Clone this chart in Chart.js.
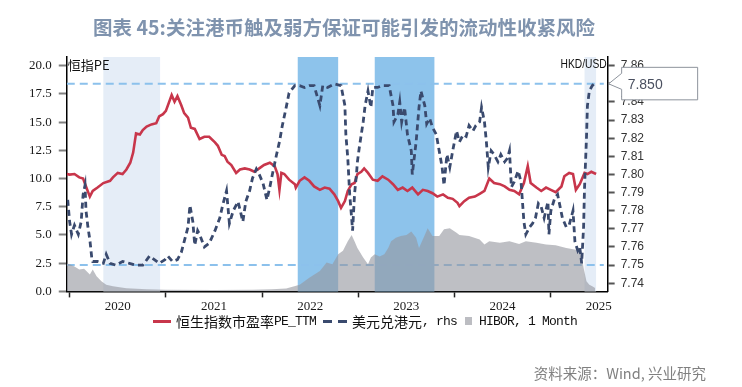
<!DOCTYPE html>
<html>
<head>
<meta charset="utf-8">
<script src="https://cdn.jsdelivr.net/npm/chart.js@4"></script>
<style>
  body { margin: 0; background: #fff; }
  #wrap { position: relative; width: 742px; height: 387px; overflow: hidden; }
  canvas { position: absolute; left: 0; top: 0; }
  #title { position: absolute; left: 0; top: 14px; width: 688px; text-align: center;
           font: bold 19.5px "Noto Sans CJK SC", sans-serif; line-height: 26px; color: #7f93ae; }
  #source { position: absolute; right: 36px; top: 363px;
            font: 14.5px "Noto Sans CJK SC", sans-serif; line-height: 20px; color: #808080; }
  #legend { position: absolute; left: 153px; top: 312px; height: 18px; display: flex; align-items: center;
            font: 13px "Liberation Mono", monospace; letter-spacing: -0.8px; color: #111; white-space: nowrap; }
  #legend .item { display: flex; align-items: center; margin-right: 7px; }
  #legend .zh { font: 14px "Noto Sans CJK SC", sans-serif; letter-spacing: 0; }
  #legend .mk { display: inline-block; margin-right: 5px; }
  #legend .line { width: 18px; height: 3px; background: #c8364b; }
  #legend .dash { width: 24px; height: 3px;
                  background: linear-gradient(to right, #3a4a6e 0 9px, transparent 9px 15px, #3a4a6e 15px 24px); }
  #legend .box { width: 7px; height: 8px; background: #bcbdc2; margin-left: 1px; margin-right: 7px; }
</style>
</head>
<body>
<div id="wrap">
  <canvas id="chart" width="742" height="387"></canvas>
  <div id="title">图表 45:关注港币触及弱方保证可能引发的流动性收紧风险</div>
  <div id="legend">
    <span class="item"><span class="mk line"></span><span class="zh">恒生指数市盈率</span>PE_TTM</span>
    <span class="item"><span class="mk dash"></span><span class="zh">美元兑港元</span>, rhs</span>
    <span class="item"><span class="mk box"></span>HIBOR, 1 Month</span>
  </div>
  <div id="source">资料来源：Wind, 兴业研究</div>
</div>
<script>
// dates are decimal years
const yearTicks = [2020, 2021, 2022, 2023, 2024, 2025];
const peTicks = [0, 2.5, 5, 7.5, 10, 12.5, 15, 17.5, 20];
const fxTicks = [7.74, 7.75, 7.76, 7.77, 7.78, 7.79, 7.80, 7.81, 7.82, 7.83, 7.84, 7.85, 7.86];
const pegLevels = [7.85, 7.75];
const pegSpan = [2019.97, 2025.55];
const calloutValue = 7.85;
const lightBands = [[2020.35, 2020.94], [2025.35, 2025.47]];
const darkBands = [[2022.37, 2022.79], [2023.17, 2023.79]];

const peDates = [
  2019.97, 2020.00, 2020.05, 2020.10, 2020.14, 2020.17, 2020.21, 2020.24, 2020.29, 2020.35,
  2020.42, 2020.45, 2020.50, 2020.55, 2020.59, 2020.63, 2020.66, 2020.69, 2020.73, 2020.76,
  2020.80, 2020.85, 2020.90, 2020.93, 2020.97, 2021.00, 2021.06, 2021.09, 2021.12, 2021.16,
  2021.19, 2021.23, 2021.26, 2021.30, 2021.35, 2021.40, 2021.45, 2021.51, 2021.54, 2021.58,
  2021.61, 2021.64, 2021.68, 2021.73, 2021.77, 2021.82, 2021.87, 2021.92, 2021.97, 2022.02,
  2022.08, 2022.13, 2022.16, 2022.18, 2022.20, 2022.23, 2022.28, 2022.34, 2022.35, 2022.39,
  2022.44, 2022.49, 2022.54, 2022.60, 2022.65, 2022.70, 2022.75, 2022.79, 2022.82, 2022.86,
  2022.89, 2022.93, 2022.96, 2022.99, 2023.03, 2023.06, 2023.10, 2023.15, 2023.20, 2023.25,
  2023.31, 2023.36, 2023.41, 2023.46, 2023.51, 2023.56, 2023.62, 2023.67, 2023.72, 2023.77,
  2023.82, 2023.88, 2023.93, 2023.98, 2024.03, 2024.05, 2024.10, 2024.15, 2024.21, 2024.26,
  2024.31, 2024.36, 2024.41, 2024.47, 2024.52, 2024.57, 2024.62, 2024.67, 2024.72, 2024.76,
  2024.79, 2024.85, 2024.90, 2024.95, 2025.00, 2025.05, 2025.11, 2025.14, 2025.19, 2025.23,
  2025.26, 2025.30, 2025.35, 2025.38, 2025.42, 2025.47
];
const peValues = [
  10.4, 10.35, 10.4, 10.1, 10.0, 9.3, 8.4, 8.9, 9.2, 9.6,
  9.8, 10.1, 10.5, 10.4, 10.8, 11.4, 12.3, 14.0, 13.9, 14.3,
  14.6, 14.8, 14.9, 15.5, 15.7, 16.0, 17.4, 16.8, 17.3, 16.5,
  15.8, 15.4, 14.5, 14.4, 13.5, 13.7, 13.7, 13.2, 12.9, 12.1,
  12.0, 11.5, 11.2, 10.5, 10.8, 10.9, 10.8, 10.6, 10.9, 11.2,
  11.4, 11.1, 10.4, 9.0, 10.5, 10.4, 9.9, 9.5, 9.2, 9.8,
  10.1, 9.8, 9.3, 9.0, 9.2, 9.1, 8.6, 8.0, 7.4, 8.0,
  8.9, 9.5, 9.6, 10.4, 10.6, 10.9, 10.5, 9.9, 9.8, 10.2,
  9.9, 9.5, 9.0, 9.2, 8.9, 9.2, 8.6, 9.0, 8.9, 8.7,
  8.4, 8.6, 8.3, 8.2, 7.85, 7.55, 8.0, 8.3, 8.4, 8.65,
  8.9, 10.0, 9.6, 9.5, 9.3, 9.0, 8.9, 8.6, 9.6, 11.1,
  9.6, 9.2, 8.9, 9.2, 9.0, 8.8, 9.3, 10.2, 10.5, 10.4,
  9.0, 9.5, 10.5, 10.4, 10.6, 10.4
];

const hkdDates = [
  2019.98, 2020.00, 2020.02, 2020.05, 2020.09, 2020.12, 2020.14, 2020.16, 2020.17, 2020.19,
  2020.21, 2020.23, 2020.24, 2020.29, 2020.35, 2020.38, 2020.42, 2020.48, 2020.55, 2020.62,
  2020.69, 2020.76, 2020.83, 2020.88, 2020.93, 2020.99, 2021.02, 2021.07, 2021.12, 2021.16,
  2021.19, 2021.23, 2021.25, 2021.28, 2021.30, 2021.33, 2021.35, 2021.40, 2021.45, 2021.51,
  2021.56, 2021.59, 2021.63, 2021.66, 2021.70, 2021.75, 2021.80, 2021.83, 2021.87, 2021.90,
  2021.94, 2021.97, 2022.01, 2022.05, 2022.08, 2022.11, 2022.15, 2022.18, 2022.21, 2022.25,
  2022.28, 2022.34, 2022.39, 2022.44, 2022.49, 2022.54, 2022.60, 2022.63, 2022.68, 2022.75,
  2022.82, 2022.86, 2022.87, 2022.89, 2022.91, 2022.93, 2022.94, 2022.96, 2022.98, 2022.99,
  2023.01, 2023.03, 2023.05, 2023.07, 2023.10, 2023.13, 2023.15, 2023.20, 2023.25, 2023.32,
  2023.36, 2023.37, 2023.41, 2023.43, 2023.45, 2023.48, 2023.51, 2023.55, 2023.56, 2023.60,
  2023.63, 2023.65, 2023.69, 2023.71, 2023.74, 2023.77, 2023.81, 2023.84, 2023.87, 2023.89,
  2023.92, 2023.95, 2023.98, 2024.02, 2024.05, 2024.09, 2024.12, 2024.15, 2024.19, 2024.22,
  2024.26, 2024.28, 2024.31, 2024.33, 2024.35, 2024.38, 2024.41, 2024.45, 2024.48, 2024.52,
  2024.55, 2024.57, 2024.59, 2024.62, 2024.66, 2024.69, 2024.72, 2024.74, 2024.78, 2024.81,
  2024.84, 2024.87, 2024.90, 2024.93, 2024.97, 2024.98, 2025.00, 2025.04, 2025.07, 2025.12,
  2025.16, 2025.19, 2025.23, 2025.25, 2025.28, 2025.30, 2025.32, 2025.34, 2025.35, 2025.37,
  2025.38, 2025.40, 2025.43, 2025.45
];
const hkdValues = [
  7.786, 7.774, 7.767, 7.772, 7.767, 7.774, 7.789, 7.794, 7.780, 7.771,
  7.764, 7.754, 7.752, 7.752, 7.751, 7.756, 7.751, 7.750, 7.752, 7.751,
  7.750, 7.750, 7.755, 7.753, 7.751, 7.753, 7.755, 7.752, 7.753, 7.757,
  7.763, 7.771, 7.783, 7.774, 7.761, 7.769, 7.767, 7.760, 7.762, 7.769,
  7.776, 7.783, 7.791, 7.773, 7.780, 7.785, 7.774, 7.785, 7.791, 7.798,
  7.803, 7.800, 7.795, 7.786, 7.793, 7.801, 7.811, 7.818, 7.827, 7.837,
  7.845, 7.849, 7.849, 7.848, 7.849, 7.849, 7.838, 7.849, 7.848, 7.850,
  7.849, 7.838, 7.822, 7.809, 7.789, 7.776, 7.769, 7.789, 7.800, 7.807,
  7.815, 7.822, 7.829, 7.838, 7.846, 7.837, 7.848, 7.848, 7.849, 7.849,
  7.838, 7.829, 7.833, 7.840, 7.829, 7.837, 7.822, 7.813, 7.800, 7.818,
  7.837, 7.846, 7.838, 7.828, 7.831, 7.826, 7.822, 7.813, 7.804, 7.794,
  7.811, 7.804, 7.813, 7.824, 7.818, 7.822, 7.821, 7.827, 7.824, 7.827,
  7.829, 7.837, 7.829, 7.818, 7.804, 7.813, 7.811, 7.807, 7.811, 7.807,
  7.809, 7.813, 7.793, 7.796, 7.802, 7.796, 7.774, 7.767, 7.771, 7.773,
  7.776, 7.784, 7.782, 7.776, 7.785, 7.767, 7.780, 7.787, 7.789, 7.776,
  7.771, 7.772, 7.780, 7.763, 7.758, 7.760, 7.751, 7.771, 7.793, 7.820,
  7.838, 7.846, 7.849, 7.850
];

const hiborDates = [
  2019.97, 2020.00, 2020.05, 2020.10, 2020.15, 2020.21, 2020.24, 2020.28, 2020.33, 2020.38,
  2020.45, 2020.59, 2020.80, 2021.00, 2021.50, 2021.90, 2022.10, 2022.25, 2022.39, 2022.49,
  2022.60, 2022.67, 2022.73, 2022.79, 2022.84, 2022.89, 2022.93, 2022.96, 2022.99, 2023.05,
  2023.10, 2023.13, 2023.17, 2023.22, 2023.27, 2023.31, 2023.34, 2023.39, 2023.44, 2023.50,
  2023.55, 2023.60, 2023.63, 2023.69, 2023.72, 2023.77, 2023.84, 2023.89, 2023.95, 2024.02,
  2024.05, 2024.15, 2024.26, 2024.31, 2024.36, 2024.47, 2024.57, 2024.67, 2024.74, 2024.85,
  2024.95, 2025.05, 2025.16, 2025.26, 2025.31, 2025.34, 2025.37, 2025.40, 2025.43, 2025.46
];
const hiborValues = [
  2.5, 2.4, 2.2, 1.95, 2.0, 1.5, 1.95, 1.35, 0.9, 0.6,
  0.45, 0.27, 0.2, 0.15, 0.12, 0.15, 0.2, 0.25, 0.6, 1.2,
  1.8, 2.55, 2.4, 3.3, 3.6, 4.45, 5.0, 4.45, 3.85, 3.0,
  2.4, 3.0, 3.3, 3.1, 3.3, 3.85, 4.45, 4.75, 4.9, 5.0,
  5.3, 4.75, 3.85, 5.0, 5.6, 4.9, 4.9, 5.5, 5.6, 5.2,
  5.0, 4.9, 4.6, 4.15, 4.45, 4.3, 4.45, 4.2, 4.45, 4.3,
  4.15, 4.1, 3.85, 3.7, 3.8, 2.1, 0.9, 0.6, 0.45, 0.3
];

const RED = '#c8364b';
const NAVY = '#3a4a6e';
const GREY = 'rgba(150, 152, 160, 0.62)';
const PEG = '#8cc1ec';

function pts(xs, ys) {
  return xs.map((x, i) => ({ x: x, y: ys[i] }));
}

const bands = {
  id: 'bands',
  beforeDatasetsDraw(chart) {
    const { ctx, chartArea: a, scales: { x } } = chart;
    ctx.save();
    const paint = (list, color) => list.forEach(([s, e]) => {
      const x1 = x.getPixelForValue(s), x2 = x.getPixelForValue(e);
      ctx.fillStyle = color;
      ctx.fillRect(x1, a.top, x2 - x1, a.bottom - a.top);
    });
    paint(lightBands, '#e5edf7');
    paint(darkBands, '#8dc3eb');
    ctx.restore();
  }
};

const extras = {
  id: 'extras',
  afterDraw(chart) {
    const { ctx, chartArea: a, scales: { y1 } } = chart;
    ctx.save();
    ctx.fillStyle = '#111';
    ctx.textBaseline = 'middle';
    ctx.font = '13px "Noto Sans CJK SC", sans-serif';
    ctx.textAlign = 'left';
    ctx.fillText('恒指PE', a.left + 1, a.top + 8);
    // narrow axis caption on the right
    ctx.save();
    ctx.translate(a.right - 1, a.top + 8);
    ctx.scale(0.82, 1);
    ctx.font = '12.5px "Liberation Sans", sans-serif';
    ctx.textAlign = 'right';
    ctx.fillText('HKD/USD', 0, 0);
    ctx.restore();

    // callout box for the weak-side level
    const tipX = a.right + 1, tipY = y1.getPixelForValue(calloutValue);
    const L = a.right + 14, T = tipY - 16.5, W = 76, H = 32.5;
    ctx.beginPath();
    ctx.moveTo(L, T);
    ctx.lineTo(L + W, T);
    ctx.lineTo(L + W, T + H);
    ctx.lineTo(L, T + H);
    ctx.lineTo(L, tipY + 5.5);
    ctx.lineTo(tipX, tipY);
    ctx.lineTo(L, tipY - 10.5);
    ctx.closePath();
    ctx.fillStyle = '#fff';
    ctx.fill();
    ctx.strokeStyle = '#8d939c';
    ctx.lineWidth = 1;
    ctx.stroke();
    ctx.fillStyle = '#4a5060';
    ctx.textAlign = 'left';
    ctx.font = '14px "Liberation Sans", sans-serif';
    ctx.fillText(calloutValue.toFixed(3), L + 6, tipY + 1);
    ctx.restore();
  }
};

new Chart(document.getElementById('chart'), {
  type: 'line',
  data: {
    datasets: [
      {
        label: '恒生指数市盈率PE_TTM',
        data: pts(peDates, peValues),
        yAxisID: 'y',
        borderColor: RED,
        borderWidth: 2.6,
        pointRadius: 0,
        order: 1
      },
      {
        label: '美元兑港元, rhs',
        data: pts(hkdDates, hkdValues),
        yAxisID: 'y1',
        borderColor: NAVY,
        borderWidth: 2.8,
        borderDash: [6, 4],
        pointRadius: 0,
        order: 0
      },
      {
        label: 'HIBOR, 1 Month',
        data: pts(hiborDates, hiborValues),
        yAxisID: 'y',
        borderWidth: 0,
        backgroundColor: GREY,
        fill: 'origin',
        pointRadius: 0,
        order: 2
      },
      {
        label: 'peg-strong',
        data: pts(pegSpan, [pegLevels[0], pegLevels[0]]),
        yAxisID: 'y1',
        borderColor: PEG,
        borderWidth: 2,
        borderDash: [8, 5],
        pointRadius: 0,
        order: 3
      },
      {
        label: 'peg-weak',
        data: pts(pegSpan, [pegLevels[1], pegLevels[1]]),
        yAxisID: 'y1',
        borderColor: PEG,
        borderWidth: 2,
        borderDash: [8, 5],
        pointRadius: 0,
        order: 3
      }
    ]
  },
  options: {
    responsive: false,
    animation: false,
    devicePixelRatio: 1,
    layout: { padding: { left: 22, right: 92, top: 57, bottom: 72 } },
    plugins: {
      tooltip: { enabled: false },
      legend: { display: false }
    },
    scales: {
      x: {
        type: 'linear',
        min: 2019.97,
        max: 2025.59,
        afterBuildTicks: s => { s.ticks = yearTicks.map(v => ({ value: v })); },
        ticks: {
          callback: v => String(v),
          labelOffset: 48,
          autoSkip: false,
          maxRotation: 0,
          padding: 1,
          color: '#1a1a1a',
          font: { family: '"Liberation Serif", serif', size: 13 }
        },
        grid: { drawOnChartArea: false, tickLength: 6, tickColor: '#222', tickWidth: 1.5 },
        border: { color: '#000', width: 1.5 }
      },
      y: {
        position: 'left',
        min: 0,
        max: 20.77,
        afterBuildTicks: s => { s.ticks = peTicks.map(v => ({ value: v })); },
        ticks: {
          callback: v => v.toFixed(1),
          padding: 7,
          color: '#1a1a1a',
          font: { family: '"Liberation Serif", serif', size: 13 }
        },
        grid: { drawOnChartArea: false, tickLength: 8, tickColor: '#808080', tickWidth: 2 },
        border: { color: '#000', width: 1.5 }
      },
      y1: {
        position: 'right',
        min: 7.7355,
        max: 7.8648,
        afterBuildTicks: s => { s.ticks = fxTicks.map(v => ({ value: v })); },
        ticks: {
          callback: v => v.toFixed(2),
          padding: 6,
          color: '#333',
          font: { family: '"Liberation Sans", sans-serif', size: 12 }
        },
        grid: { drawOnChartArea: false, tickLength: 7, tickColor: '#555', tickWidth: 2 },
        border: { color: '#000', width: 1.5 }
      }
    }
  },
  plugins: [bands, extras]
});
</script>
</body>
</html>
